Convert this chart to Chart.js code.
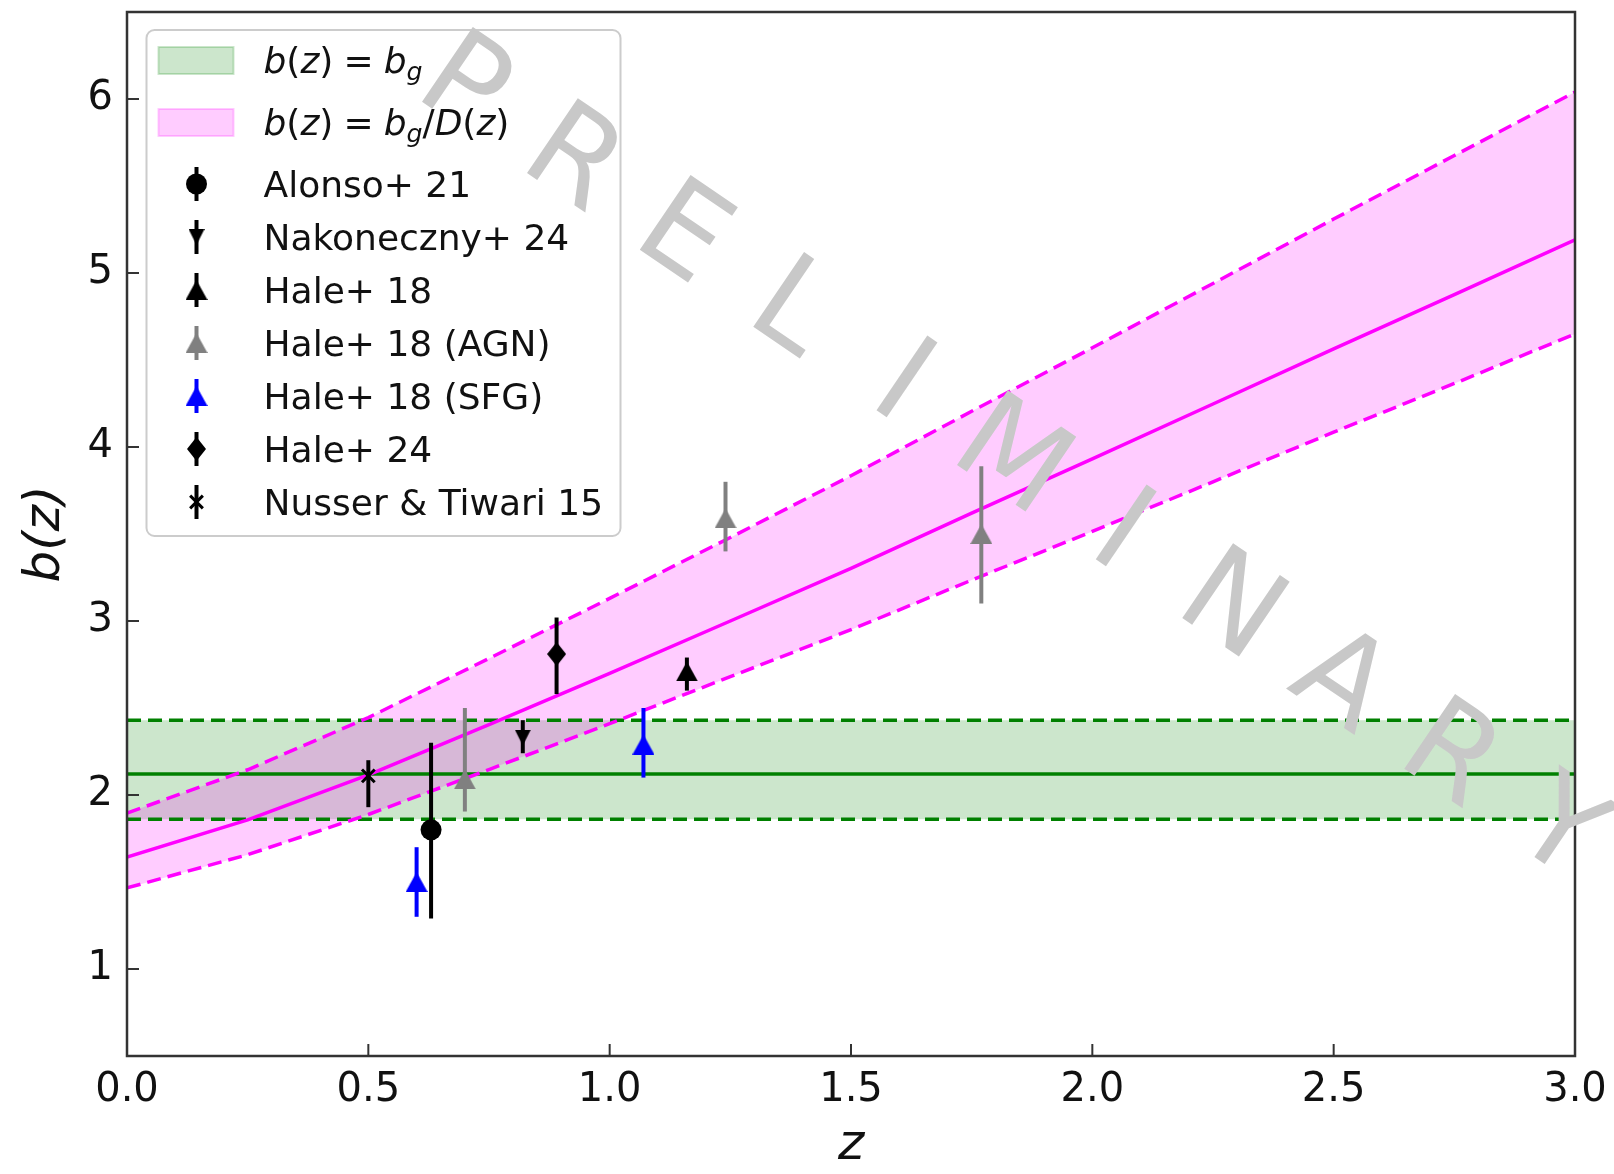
<!DOCTYPE html>
<html lang="en">
<head>
<meta charset="UTF-8">
<title>b(z) vs z</title>
<script src="https://cdn.jsdelivr.net/npm/chart.js@4.4.1/dist/chart.umd.min.js"></script>
<style>
  html, body { margin: 0; padding: 0; background: #fff; }
  canvas { display: block; }
</style>
</head>
<body>
<canvas id="chart" width="1614" height="1174"></canvas>
<script>
// ---- values ----
const xTicks = [0, 0.5, 1.0, 1.5, 2.0, 2.5, 3.0];
const yTicks = [1, 2, 3, 4, 5, 6];

// b(z) = bg (constant)
const constZ = [0, 3];
const constMid = [2.12, 2.12];
const constLow = [1.86, 1.86];
const constHigh = [2.43, 2.43];

// b(z) = bg / D(z)
const zGrid = [0, 0.25, 0.5, 0.75, 1.0, 1.25, 1.5, 1.75, 2.0, 2.25, 2.5, 2.75, 3.0];
const evolMid = [1.643, 1.857, 2.115, 2.404, 2.699, 3.000, 3.302, 3.620, 3.932, 4.247, 4.564, 4.876, 5.190];
const evolLow = [1.466, 1.657, 1.888, 2.146, 2.410, 2.680, 2.950, 3.235, 3.515, 3.800, 4.085, 4.365, 4.650];
const evolHigh = [1.896, 2.145, 2.445, 2.785, 3.130, 3.480, 3.835, 4.205, 4.570, 4.940, 5.310, 5.675, 6.040];

const bandLabels = ['b(z) = b_g', 'b(z) = b_g/D(z)'];

// measurements: z, b, lower and upper end of the error bar
const seriesNames = ['Alonso+ 21', 'Nakoneczny+ 24', 'Hale+ 18', 'Hale+ 18 (AGN)', 'Hale+ 18 (SFG)', 'Hale+ 24', 'Nusser & Tiwari 15'];
const alonsoZ = [0.63], alonsoB = [1.80], alonsoLo = [1.29], alonsoHi = [2.30];
const nakZ = [0.82], nakB = [2.33], nakLo = [2.24], nakHi = [2.43];
const hale18Z = [1.16], hale18B = [2.71], hale18Lo = [2.60], hale18Hi = [2.79];
const agnZ = [0.70, 1.24, 1.77], agnB = [2.09, 3.59, 3.50], agnLo = [1.905, 3.40, 3.10], agnHi = [2.50, 3.80, 3.89];
const sfgZ = [0.60, 1.07], sfgB = [1.50, 2.29], sfgLo = [1.30, 2.10], sfgHi = [1.70, 2.50];
const hale24Z = [0.89], hale24B = [2.81], hale24Lo = [2.58], hale24Hi = [3.02];
const nusserZ = [0.50], nusserB = [2.11], nusserLo = [1.93], nusserHi = [2.20];

const watermarkText = 'PRELIMINARY';

// ---- helpers ----
const pts = (xs, ys) => xs.map((x, i) => ({ x: x, y: ys[i] }));

function markerCanvas(w, h, color, path) {
    const c = document.createElement('canvas');
    c.width = w; c.height = h;
    const g = c.getContext('2d');
    g.fillStyle = color;
    g.beginPath(); path(g, w, h); g.closePath(); g.fill();
    return c;
}
const triUp = (g, w, h) => { g.moveTo(w / 2, 0); g.lineTo(w, h); g.lineTo(0, h); };
const triDown = (g, w, h) => { g.moveTo(0, 0); g.lineTo(w, 0); g.lineTo(w / 2, h); };
const thinDiamond = (g, w, h) => { g.moveTo(w / 2, 0); g.lineTo(w, h / 2); g.lineTo(w / 2, h); g.lineTo(0, h / 2); };

const GREEN = '#008000', MAGENTA = '#ff00ff';
const GREEN_FILL = 'rgba(0,128,0,0.2)', MAGENTA_FILL = 'rgba(255,0,255,0.2)';

function bandLine(data, color, dashed, order, fill, fillColor) {
    return {
        type: 'line', data: data, borderColor: color, borderWidth: 3.5,
        borderDash: dashed ? [14, 7] : [], pointRadius: 0, tension: 0,
        fill: fill || false, backgroundColor: fillColor || 'transparent', order: order
    };
}

function series(i, z, b, lo, hi, color, style, radius, extra) {
    return Object.assign({
        label: seriesNames[i], data: pts(z, b), showLine: false,
        pointStyle: style, pointRadius: radius, backgroundColor: color,
        borderColor: color, borderWidth: 0, barColor: color,
        barLo: lo, barHi: hi, order: 1 + i
    }, extra || {});
}

const datasets = [
    bandLine(pts(constZ, constLow), GREEN, true, 20),
    bandLine(pts(constZ, constHigh), GREEN, true, 21, '-1', GREEN_FILL),
    bandLine(pts(constZ, constMid), GREEN, false, 19),
    bandLine(pts(zGrid, evolLow), MAGENTA, true, 17),
    bandLine(pts(zGrid, evolHigh), MAGENTA, true, 18, '-1', MAGENTA_FILL),
    bandLine(pts(zGrid, evolMid), MAGENTA, false, 16),
    series(0, alonsoZ, alonsoB, alonsoLo, alonsoHi, '#000000', 'circle', 10.5),
    series(1, nakZ, nakB, nakLo, nakHi, '#000000', markerCanvas(16, 16, '#000000', triDown), 9),
    series(2, hale18Z, hale18B, hale18Lo, hale18Hi, '#000000', markerCanvas(22, 20, '#000000', triUp), 11),
    series(3, agnZ, agnB, agnLo, agnHi, '#808080', markerCanvas(22, 20, '#808080', triUp), 11),
    series(4, sfgZ, sfgB, sfgLo, sfgHi, '#0000ff', markerCanvas(22, 20, '#0000ff', triUp), 11),
    series(5, hale24Z, hale24B, hale24Lo, hale24Hi, '#000000', markerCanvas(19, 24, '#000000', thinDiamond), 12),
    series(6, nusserZ, nusserB, nusserLo, nusserHi, '#000000', 'crossRot', 9, { borderWidth: 3 })
];

// ---- plugins ----
const errorBars = {
    id: 'errorBars',
    beforeDatasetDraw(chart, args) {
        const ds = chart.data.datasets[args.index];
        if (!ds.barLo) return;
        const { ctx, scales: { x, y } } = chart;
        ctx.save();
        ctx.strokeStyle = ds.barColor;
        ctx.lineWidth = 4;
        ds.data.forEach((p, i) => {
            const px = x.getPixelForValue(p.x);
            ctx.beginPath();
            ctx.moveTo(px, y.getPixelForValue(ds.barLo[i]));
            ctx.lineTo(px, y.getPixelForValue(ds.barHi[i]));
            ctx.stroke();
        });
        ctx.restore();
    }
};

const axesFrame = {
    id: 'axesFrame',
    afterDatasetsDraw(chart) {
        const { ctx, chartArea: a, scales: { x, y } } = chart;
        ctx.save();
        ctx.strokeStyle = '#333';
        ctx.lineWidth = 2;
        x.ticks.forEach(t => {
            const px = x.getPixelForValue(t.value);
            ctx.beginPath(); ctx.moveTo(px, a.bottom); ctx.lineTo(px, a.bottom - 12); ctx.stroke();
        });
        y.ticks.forEach(t => {
            const py = y.getPixelForValue(t.value);
            ctx.beginPath(); ctx.moveTo(a.left, py); ctx.lineTo(a.left + 12, py); ctx.stroke();
        });
        ctx.lineWidth = 2.5;
        ctx.strokeRect(a.left, a.top, a.right - a.left, a.bottom - a.top);
        ctx.restore();
    }
};

function drawMath(ctx, str, x, yBase, size) {
    let cx = x;
    for (let i = 0; i < str.length; i++) {
        let ch = str[i], sub = false;
        if (ch === '_') { sub = true; ch = str[++i]; }
        if (ch === ' ') { cx += size * 0.28; continue; }
        const italic = /[A-Za-z]/.test(ch);
        const fs = sub ? size * 0.7 : size;
        ctx.font = (italic ? 'italic ' : '') + fs + 'px "DejaVu Sans"';
        ctx.fillText(ch, cx, yBase + (sub ? size * 0.22 : 0));
        cx += ctx.measureText(ch).width;
    }
}

function drawMarker(ctx, ds, x, y) {
    const st = ds.pointStyle;
    ctx.save();
    if (typeof st === 'object') {
        ctx.drawImage(st, x - st.width / 2, y - st.height / 2);
    } else if (st === 'circle') {
        ctx.fillStyle = ds.backgroundColor;
        ctx.beginPath(); ctx.arc(x, y, ds.pointRadius, 0, Math.PI * 2); ctx.fill();
    } else if (st === 'crossRot') {
        const r = ds.pointRadius * Math.SQRT1_2;
        ctx.strokeStyle = ds.borderColor; ctx.lineWidth = ds.borderWidth;
        ctx.beginPath();
        ctx.moveTo(x - r, y - r); ctx.lineTo(x + r, y + r);
        ctx.moveTo(x + r, y - r); ctx.lineTo(x - r, y + r);
        ctx.stroke();
    }
    ctx.restore();
}

const legendBox = {
    id: 'legendBox',
    afterDraw(chart) {
        const { ctx, chartArea: a } = chart;
        const bx = a.left + 19.5, by = a.top + 18, bw = 474, bh = 506;
        ctx.save();
        ctx.fillStyle = 'rgba(255,255,255,0.8)';
        ctx.strokeStyle = '#cccccc';
        ctx.lineWidth = 2;
        ctx.beginPath(); ctx.roundRect(bx, by, bw, bh, 8); ctx.fill(); ctx.stroke();

        const textX = bx + 117, markX = bx + 50;
        ctx.textBaseline = 'alphabetic';
        const fills = [GREEN_FILL, MAGENTA_FILL];
        bandLabels.forEach((lab, i) => {
            const cy = by + 30.5 + i * 62;
            ctx.fillStyle = fills[i];
            ctx.fillRect(bx + 12, cy - 13.5, 75, 27);
            ctx.strokeStyle = fills[i];
            ctx.lineWidth = 2;
            ctx.strokeRect(bx + 12, cy - 13.5, 75, 27);
            ctx.fillStyle = '#111';
            drawMath(ctx, lab, textX, cy + 12, 36);
        });
        const marks = chart.data.datasets.filter(d => d.barLo);
        marks.forEach((ds, i) => {
            const cy = by + 154 + i * 53;
            ctx.strokeStyle = ds.barColor;
            ctx.lineWidth = 4;
            ctx.beginPath(); ctx.moveTo(markX, cy - 17); ctx.lineTo(markX, cy + 17); ctx.stroke();
            drawMarker(ctx, ds, markX, cy);
            ctx.fillStyle = '#111';
            ctx.font = '36px "DejaVu Sans"';
            ctx.fillText(ds.label, textX, cy + 13);
        });
        ctx.restore();
    }
};

const watermark = {
    id: 'watermark',
    afterDraw(chart) {
        const { ctx, chartArea: a } = chart;
        const w = a.right - a.left, h = a.bottom - a.top;
        const x0 = a.left + 0.2357 * w, y0 = a.top + 0.0638 * h;
        const x1 = a.left + 0.9931 * w, y1 = a.top + 0.777 * h;
        const ang = Math.atan2(y1 - y0, x1 - x0);
        const letters = watermarkText.split('');
        const size = 124;
        ctx.save();
        ctx.fillStyle = '#c8c8c8';
        ctx.font = size + 'px "DejaVu Sans"';
        ctx.textAlign = 'center';
        ctx.textBaseline = 'alphabetic';
        letters.forEach((ch, i) => {
            const t = i / (letters.length - 1);
            ctx.save();
            ctx.translate(x0 + (x1 - x0) * t, y0 + (y1 - y0) * t);
            ctx.rotate(ang);
            ctx.fillText(ch, 0, size * 0.365);
            ctx.restore();
        });
        ctx.restore();
    }
};

// ---- chart ----
new Chart(document.getElementById('chart'), {
    type: 'line',
    data: { datasets: datasets },
    options: {
        responsive: false,
        animation: false,
        events: [],
        layout: { padding: { top: 10, right: 39, left: 0, bottom: 0 } },
        plugins: {
            legend: { display: false },
            tooltip: { enabled: false },
            filler: { drawTime: 'beforeDatasetsDraw' }
        },
        scales: {
            x: {
                type: 'linear', min: 0, max: 3,
                afterBuildTicks: s => { s.ticks = xTicks.map(v => ({ value: v })); },
                afterFit: s => { s.height = 118; s.paddingLeft = 0; s.paddingRight = 0; },
                grid: { display: false, drawTicks: false },
                border: { display: false },
                ticks: {
                    callback: v => Number(v).toFixed(1),
                    font: { family: 'DejaVu Sans', size: 40 },
                    color: '#111', padding: 11, maxRotation: 0, autoSkip: false
                },
                title: {
                    display: true, text: 'z', color: '#111',
                    font: { family: 'DejaVu Sans', style: 'italic', size: 50, lineHeight: 1 },
                    padding: { top: 0, bottom: 3 }
                }
            },
            y: {
                type: 'linear', min: 0.5, max: 6.5,
                afterBuildTicks: s => { s.ticks = yTicks.map(v => ({ value: v })); },
                afterFit: s => { s.width = 127; s.paddingTop = 0; s.paddingBottom = 0; },
                grid: { display: false, drawTicks: false },
                border: { display: false },
                ticks: {
                    font: { family: 'DejaVu Sans', size: 40 },
                    color: '#111', padding: 14, autoSkip: false
                },
                title: {
                    display: true, text: 'b(z)', color: '#111',
                    font: { family: 'DejaVu Sans', style: 'italic', size: 50, lineHeight: 1 },
                    padding: { top: 21, bottom: 0 }
                }
            }
        }
    },
    plugins: [errorBars, axesFrame, legendBox, watermark]
});
</script>
</body>
</html>
